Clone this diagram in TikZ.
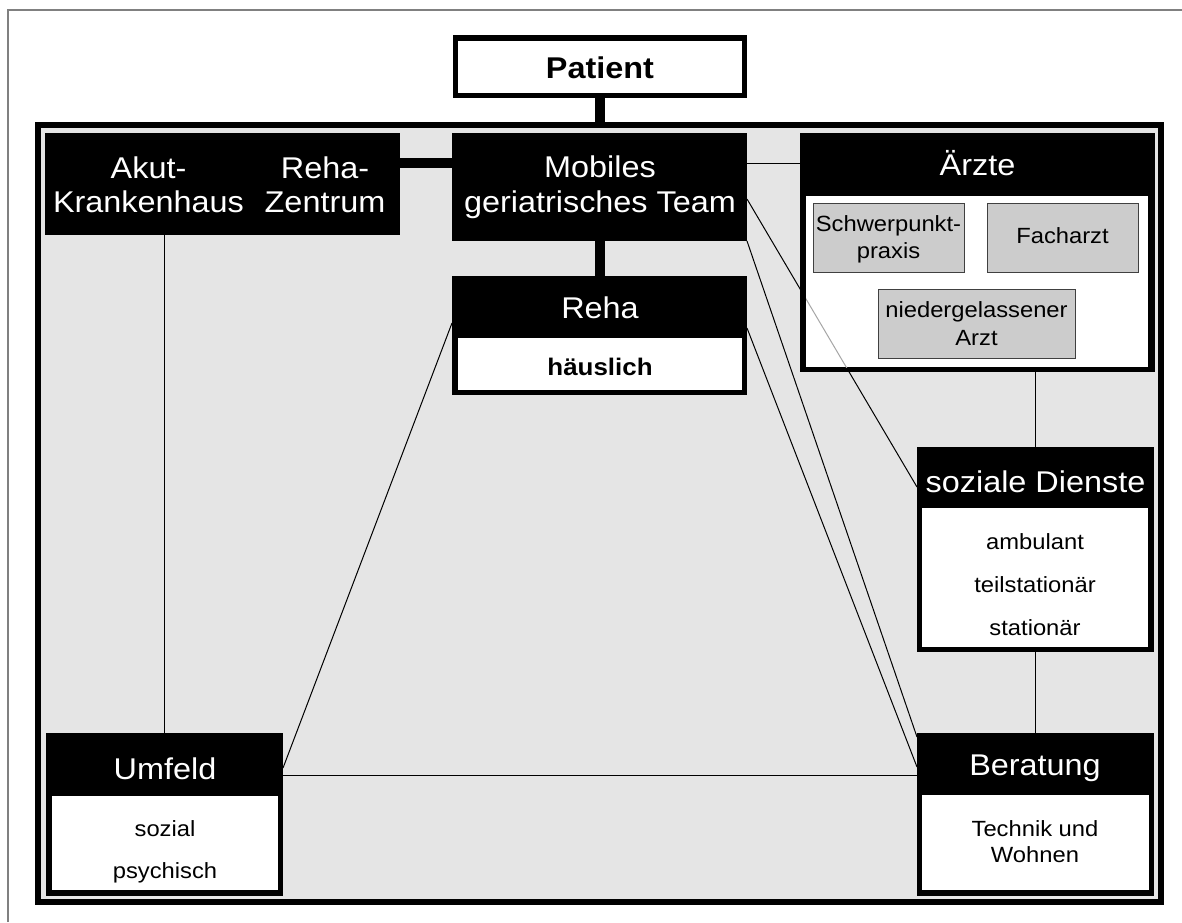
\documentclass[tikz,border=0pt]{standalone}
\usepackage{fontspec}
\setmainfont{Liberation Sans}[FakeStretch=1.08]
\newcommand{\hdrsize}{\fontsize{30}{36}\selectfont}
\newcommand{\subsize}{\fontsize{22}{26}\selectfont}
\newcommand{\patsize}{\fontsize{30}{36}\selectfont\bfseries}
\newcommand{\haussize}{\fontsize{24}{28}\selectfont\bfseries}
\pgfdeclarelayer{back}
\pgfdeclarelayer{bg}
\pgfsetlayers{back,bg,main}
\begin{document}
\begin{tikzpicture}[x=1pt,y=-1pt,
  blk/.style={rectangle, fill=black, inner sep=0pt, outer sep=0pt},
  wht/.style={rectangle, fill=white, inner sep=0pt, outer sep=0pt},
  gbx/.style={rectangle, fill=gray!40, draw=gray!50!black, line width=1pt, inner sep=0pt, outer sep=0pt},
  hdr/.style={text=white, font=\hdrsize, inner sep=0pt, anchor=base},
  sub/.style={text=black, font=\subsize, inner sep=0pt, anchor=base},
  conn/.style={line width=1pt, draw=black},
  bar/.style={line width=10pt, draw=black},
  midbar/.style={line width=5pt, draw=black, line join=miter}]
\useasboundingbox (0,0) rectangle (1182,922);

\begin{pgfonlayer}{back}
  \fill[white] (0,0) rectangle (1182,922);
  \draw[line width=1.5pt, gray] (8,922) -- (8,10) -- (1182,10);
  \node[draw=black, line width=6pt, fill=gray!20, inner sep=0pt,
        minimum width=1123pt, minimum height=777pt] (frame) at (599.5,513.5) {};
\end{pgfonlayer}

% boxes
\node[blk, minimum width=294pt, minimum height=63pt] (pat) at (600,66.5) {};
\node[wht, minimum width=284pt, minimum height=52pt] (patw) at (600,67) {};

\node[blk, minimum width=295pt, minimum height=108pt] (mob) at (599.5,187) {};
\node[blk, minimum width=355pt, minimum height=102pt] (akut) at (222.5,184) {};

\node[blk, minimum width=295pt, minimum height=119pt] (reha) at (599.5,335.5) {};
\node[wht, minimum width=284pt, minimum height=52pt] (rehaw) at (600,364) {};

\node[blk, minimum width=355pt, minimum height=239pt] (arz) at (977.5,252.5) {};
\node[wht, minimum width=342pt, minimum height=171pt] (arzw) at (977,281.5) {};
\node[gbx, minimum width=151pt, minimum height=69pt] (sp) at (888.5,237.5) {};
\node[gbx, minimum width=151pt, minimum height=69pt] (fa) at (1062.5,237.5) {};
\node[gbx, minimum width=197pt, minimum height=69pt] (nd) at (976.5,323.5) {};

\node[blk, minimum width=237pt, minimum height=205pt] (soz) at (1035.5,549.5) {};
\node[wht, minimum width=226pt, minimum height=139pt] (sozw) at (1035,577.5) {};

\node[blk, minimum width=237pt, minimum height=163pt] (ber) at (1035.5,814.5) {};
\node[wht, minimum width=227pt, minimum height=95pt] (berw) at (1035.5,842.5) {};

\node[blk, minimum width=237pt, minimum height=163pt] (umf) at (164.5,814.5) {};
\node[wht, minimum width=226pt, minimum height=94pt] (umfw) at (165,843) {};

% connectors (under the boxes)
\begin{pgfonlayer}{bg}
  \draw[bar] (pat.south) -- (pat.south |- frame.north);
  \draw[bar] (mob.south) -- (reha.north);
  \draw[bar] ([yshift=-30pt]akut.north east) -- ([yshift=-30pt]mob.north west);
  \draw[conn] ([yshift=-30pt]mob.north east) -- ([yshift=-30pt]arz.north west);
  \draw[conn] (umf.north) -- (umf.north |- akut.south);
  \draw[conn] ([yshift=-47pt]reha.north west) -- ([yshift=-35pt]umf.north east);
  \draw[conn] ([yshift=-42pt]umf.north east) -- ([yshift=-42pt]ber.north west);
  \draw[conn] (mob.south east) -- ([yshift=-4pt]ber.north west);
  \draw[conn] ([yshift=-52pt]reha.north east) -- ([yshift=-34pt]ber.north west);
  \draw[conn] ([yshift=-66pt]mob.north east) -- ([yshift=-40pt]soz.north west);
  \draw[conn] (soz.north) -- (soz.north |- arz.south);
  \draw[conn] (soz.south) -- (ber.north);
  \draw[midbar] (sp.east) -- (fa.west);
  \draw[midbar] ([xshift=14.5pt]sp.south) -- (nd.north) -- ([xshift=-12.5pt]fa.south);
\end{pgfonlayer}

% the line seen through the white part of the Aerzte box
\begin{scope}
  \clip (arzw.south west) rectangle (arzw.north east);
  \draw[line width=1pt, gray!70] ([yshift=-66pt]mob.north east) -- ([yshift=-40pt]soz.north west);
\end{scope}

% texts
\node[text=black, font=\patsize, inner sep=0pt, anchor=base] (tpat) at (600,78) {Patient};
\node[hdr] (tmob1) at (600,177) {Mobiles};
\node[hdr] (tmob2) at (600,212) {geriatrisches Team};
\node[hdr] (tak1) at (148.5,178) {Akut-};
\node[hdr] (tak2) at (148.5,212) {Krankenhaus};
\node[hdr] (trz1) at (325,178) {Reha-};
\node[hdr] (trz2) at (325,212) {Zentrum};
\node[hdr] (treha) at (600,318) {Reha};
\node[text=black, font=\haussize, inner sep=0pt, anchor=base] (thaus) at (600,375) {häuslich};
\node[hdr] (tarz) at (977.5,175) {Ärzte};
\node[sub] (tsp1) at (888.5,231) {Schwerpunkt-};
\node[sub] (tsp2) at (888.5,258) {praxis};
\node[sub] (tfa) at (1062.5,243) {Facharzt};
\node[sub] (tnd1) at (976.5,317) {niedergelassener};
\node[sub] (tnd2) at (976.5,345) {Arzt};
\node[hdr] (tsoz) at (1035.5,492) {soziale Dienste};
\node[sub] (tsoz1) at (1035,549) {ambulant};
\node[sub] (tsoz2) at (1035,592) {teilstationär};
\node[sub] (tsoz3) at (1035,635) {stationär};
\node[hdr] (tber) at (1035,775) {Beratung};
\node[sub] (tber1) at (1035,836) {Technik und};
\node[sub] (tber2) at (1035,862) {Wohnen};
\node[hdr] (tumf) at (165,779) {Umfeld};
\node[sub] (tumf1) at (165,836) {sozial};
\node[sub] (tumf2) at (165,878) {psychisch};
\end{tikzpicture}
\end{document}
